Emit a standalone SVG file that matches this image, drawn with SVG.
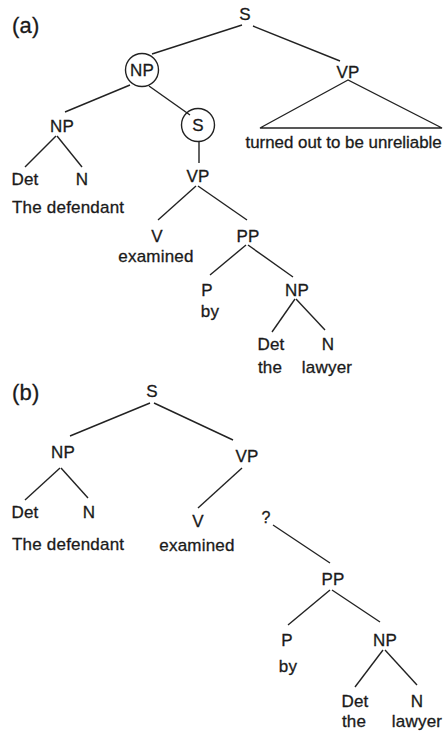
<svg xmlns="http://www.w3.org/2000/svg" width="445" height="733" viewBox="0 0 445 733">
<style>
text{font-family:"Liberation Sans",Arial,sans-serif;font-size:17px;fill:#1a1a1a;stroke:#1a1a1a;stroke-width:0.3;letter-spacing:0.2px}
.m{text-anchor:middle}
.lab{font-size:22px}
.e line,.e polygon{stroke:#222;stroke-width:1.4;fill:none}
circle{stroke:#222;stroke-width:1.4;fill:none}
</style>
<rect width="445" height="733" fill="#fff"/>
<g id="connectors" class="e">
<line x1="242" y1="25" x2="152" y2="54"/>
<line x1="253" y1="26" x2="340" y2="61"/>
<polygon points="348,80 260,128 442,128"/>
<line x1="130" y1="85" x2="65" y2="112"/>
<line x1="149" y1="86" x2="190" y2="115"/>
<line x1="56" y1="136" x2="25" y2="167"/>
<line x1="57" y1="136" x2="82" y2="167"/>
<line x1="199" y1="142" x2="199" y2="163"/>
<line x1="196" y1="186" x2="158" y2="220"/>
<line x1="198" y1="186" x2="247" y2="220"/>
<line x1="246" y1="245" x2="210" y2="275"/>
<line x1="248" y1="245" x2="293" y2="277"/>
<line x1="295" y1="299" x2="272" y2="332"/>
<line x1="296" y1="299" x2="325" y2="330"/>
<line x1="150" y1="403" x2="70" y2="436"/>
<line x1="154" y1="403" x2="233" y2="440"/>
<line x1="60" y1="468" x2="25" y2="500"/>
<line x1="61" y1="468" x2="88" y2="498"/>
<line x1="242" y1="468" x2="198" y2="508"/>
<line x1="273" y1="525" x2="330" y2="563"/>
<line x1="330" y1="590" x2="288" y2="625"/>
<line x1="332" y1="590" x2="380" y2="622"/>
<line x1="383" y1="650" x2="355" y2="687"/>
<line x1="385" y1="650" x2="417" y2="685"/>
</g>
<g id="label-a"><text class="lab" x="12" y="33">(a)</text></g>
<g id="a-S"><text class="m" x="245" y="20">S</text></g>
<g id="a-NP-circled"><circle cx="142" cy="70" r="16.5"/><text class="m" x="142" y="76">NP</text></g>
<g id="a-VP"><text class="m" x="348" y="78">VP</text></g>
<g id="a-VP-yield"><text x="245.5" y="148" style="letter-spacing:0;font-size:16.9px">turned out to be unreliable</text></g>
<g id="a-NP"><text class="m" x="62" y="132">NP</text></g>
<g id="a-Det"><text class="m" x="25" y="185">Det</text></g>
<g id="a-N"><text class="m" x="82" y="185">N</text></g>
<g id="a-words1"><text x="12" y="213">The defendant</text></g>
<g id="a-S-circled"><circle cx="198" cy="125" r="16.5"/><text class="m" x="198" y="131">S</text></g>
<g id="a-VP2"><text class="m" x="198" y="182">VP</text></g>
<g id="a-V"><text class="m" x="157" y="242">V</text><text class="m" x="156" y="262">examined</text></g>
<g id="a-PP"><text class="m" x="248" y="242">PP</text></g>
<g id="a-P"><text class="m" x="207" y="296">P</text><text class="m" x="210" y="317">by</text></g>
<g id="a-NP2"><text class="m" x="297" y="296">NP</text></g>
<g id="a-Det2"><text class="m" x="271" y="350">Det</text><text class="m" x="270" y="373">the</text></g>
<g id="a-N2"><text class="m" x="328" y="350">N</text><text class="m" x="327" y="373">lawyer</text></g>
<g id="label-b"><text class="lab" x="12" y="400">(b)</text></g>
<g id="b-S"><text class="m" x="152" y="397">S</text></g>
<g id="b-NP"><text class="m" x="63" y="458">NP</text></g>
<g id="b-VP"><text class="m" x="247" y="462">VP</text></g>
<g id="b-Det"><text class="m" x="25" y="518">Det</text></g>
<g id="b-N"><text class="m" x="89" y="518">N</text></g>
<g id="b-words1"><text x="12" y="550">The defendant</text></g>
<g id="b-V"><text class="m" x="198" y="527">V</text><text class="m" x="197" y="551">examined</text></g>
<g id="b-q"><text class="m" x="266" y="523" style="font-size:16px">?</text></g>
<g id="b-PP"><text class="m" x="333" y="585">PP</text></g>
<g id="b-P"><text class="m" x="287" y="646">P</text><text class="m" x="288" y="672">by</text></g>
<g id="b-NP2"><text class="m" x="385" y="646">NP</text></g>
<g id="b-Det2"><text class="m" x="355" y="707">Det</text><text class="m" x="354" y="727">the</text></g>
<g id="b-N2"><text class="m" x="417" y="707">N</text><text class="m" x="417" y="727">lawyer</text></g>
</svg>
